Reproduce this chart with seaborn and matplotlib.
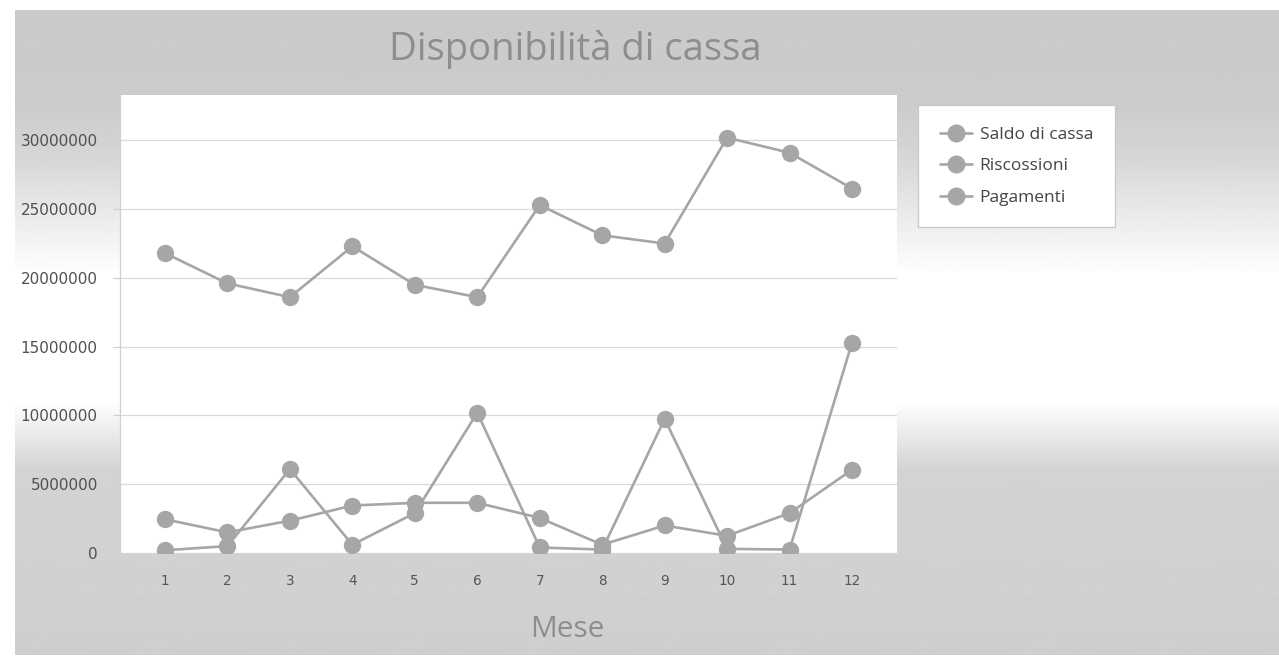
import numpy as np
import pandas as pd
import matplotlib
matplotlib.use("Agg")
import matplotlib.pyplot as plt
import seaborn as sns
from matplotlib.lines import Line2D
from matplotlib.ticker import FuncFormatter, MultipleLocator

# Monthly cash figures
mesi = list(range(1, 13))
saldo_di_cassa = [21800000, 19600000, 18600000, 22300000, 19500000, 18600000,
                  25300000, 23100000, 22500000, 30200000, 29100000, 26500000]
riscossioni = [200000, 500000, 6100000, 600000, 2900000, 10200000,
               400000, 250000, 9750000, 300000, 250000, 15300000]
pagamenti = [2450000, 1500000, 2350000, 3450000, 3650000, 3650000,
             2550000, 600000, 2000000, 1250000, 2900000, 6050000]
serie = ["Saldo di cassa", "Riscossioni", "Pagamenti"]

df = pd.DataFrame({
    "Mese": mesi * 3,
    "Valore": saldo_di_cassa + riscossioni + pagamenti,
    "Serie": [s for s in serie for _ in mesi],
})

sns.set_theme(style="white")
plt.rcParams["font.family"] = ["DejaVu Sans"]

W, H = 1279, 660
fig = plt.figure(figsize=(W / 100, H / 100), dpi=100)
fig.patch.set_facecolor("white")

# Grey panel with a light band across the middle
bg = fig.add_axes([0, 0, 1, 1], zorder=-10)
bg.set_xlim(0, W)
bg.set_ylim(H, 0)
bg.axis("off")
rows = np.arange(H, dtype=float)
prof = np.interp(rows, [0, 100, 150, 270, 400, 470, 660],
                 [0.79, 0.80, 0.84, 1.0, 1.0, 0.83, 0.81])
grad = np.repeat(prof[:, None], 10, axis=1)
bg.imshow(grad, cmap="gray", vmin=0, vmax=1, aspect="auto",
          extent=[15, W, 655, 10], interpolation="bilinear")

x0, x1, y0, y1 = 120, 897, 95, 553
ax = fig.add_axes([x0 / W, 1 - y1 / H, (x1 - x0) / W, (y1 - y0) / H])
ax.set_facecolor("white")

gray = "#a6a6a6"
sns.lineplot(data=df, x="Mese", y="Valore", hue="Serie", hue_order=serie,
             palette=[gray] * 3, marker="o", markersize=12.5,
             markeredgewidth=0, linewidth=1.9, ax=ax, legend=False)

ax.set_xlim(0.28, 12.72)
ax.set_ylim(0, 33300000)
ax.set_xticks(mesi)
ax.set_xticklabels([str(m) for m in mesi])
ax.yaxis.set_major_locator(MultipleLocator(5000000))
ax.yaxis.set_major_formatter(FuncFormatter(lambda v, p: f"{int(round(v))}"))
ax.grid(axis="y", color="#dadada", linewidth=0.9)
ax.set_xlabel("")
ax.set_ylabel("")

for side in ["top", "right", "bottom"]:
    ax.spines[side].set_visible(False)
ax.spines["left"].set_color("#d0d0d0")
ax.spines["left"].set_linewidth(0.9)

ax.tick_params(axis="x", length=0, pad=15, labelsize=9.8, labelcolor="#555555")
ax.tick_params(axis="y", length=5, width=0.9, color="#d0d0d0", pad=11,
               labelsize=11, labelcolor="#505050", left=True)

fig.text(575 / W, 1 - 60 / H, "Disponibilità di cassa", ha="center",
         va="baseline", fontsize=27.5, color="#8e8e8e", family="Open Sans")
fig.text(567 / W, 1 - 637 / H, "Mese", ha="center", va="baseline",
         fontsize=21.5, color="#8e8e8e", family="Open Sans")

handles = [Line2D([], [], color=gray, marker="o", markersize=13,
                  markeredgewidth=0, linewidth=1.9) for _ in serie]
leg = fig.legend(handles, serie, loc="upper left",
                 bbox_to_anchor=(918 / W, 1 - 105 / H), borderaxespad=0,
                 frameon=True, fancybox=False, framealpha=1,
                 edgecolor="#c8c8c8", facecolor="white", fontsize=12.5,
                 handlelength=1.85, handletextpad=0.45, labelspacing=0.88,
                 borderpad=1.25)
leg.get_frame().set_linewidth(0.9)
for t in leg.get_texts():
    t.set_color("#444444")
    t.set_family("Open Sans")

fig.savefig("out.png", dpi=100, facecolor="white")
